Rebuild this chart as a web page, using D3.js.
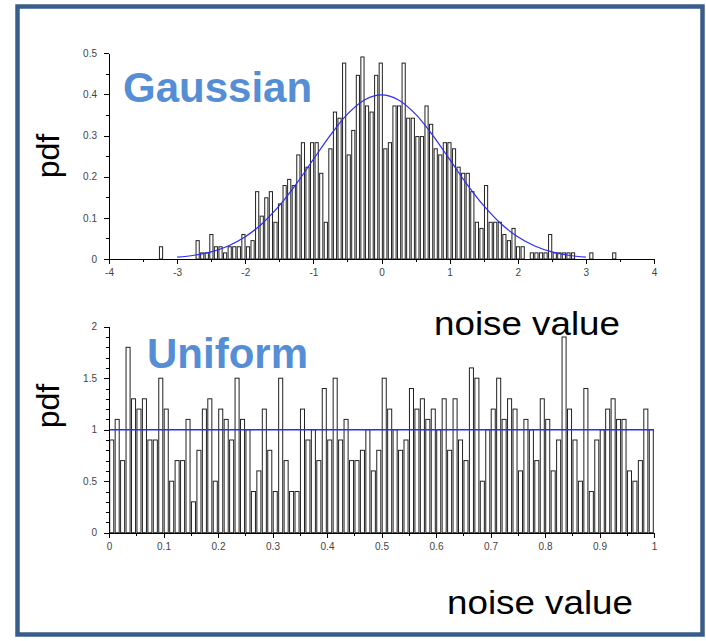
<!DOCTYPE html>
<html>
<head>
<meta charset="utf-8">
<script src="https://cdn.jsdelivr.net/npm/d3@7"></script>
<style>
body { margin: 0; background: #fff; }
svg { display: block; }
.axis text { font-family: "Liberation Sans", Arial, sans-serif; font-size: 10px; fill: #444; }
.axis path, .axis line { stroke: #000; shape-rendering: crispEdges; }
</style>
</head>
<body>
<div id="chart"></div>
<script>
// gaussian histogram: sample counts in 100 equal bins (1000 samples)
var gaussCounts = [
	2, 0, 0, 0, 0, 0, 0, 0, 3, 1,
	1, 4, 2, 2, 1, 2, 2, 2, 4, 2,
	3, 11, 7, 10, 11, 6, 9, 12, 13, 12,
	17, 19, 15, 19, 19, 14, 6, 18, 24, 23,
	32, 17, 21, 30, 33, 25, 24, 30, 32, 18,
	19, 25, 25, 32, 23, 23, 20, 20, 25, 22,
	18, 17, 19, 19, 18, 15, 14, 14, 11, 6,
	5, 12, 6, 6, 6, 4, 3, 5, 2, 2,
	0, 1, 1, 1, 1, 4, 1, 1, 1, 1,
	1, 0, 0, 0, 1, 0, 0, 0, 0, 1
];
var gaussRange = [-3.27, 3.45];
var gaussSamples = 1000;

// blue reference curve read at 0.25 steps
var curveX = [-3, -2.75, -2.5, -2.25, -2, -1.75, -1.5, -1.25, -1, -0.75, -0.5, -0.25, 0,
	0.25, 0.5, 0.75, 1, 1.25, 1.5, 1.75, 2, 2.25, 2.5, 2.75, 3];
var curveY = [0.0044, 0.0091, 0.0175, 0.0317, 0.054, 0.0863, 0.1295, 0.1826, 0.242, 0.3011, 0.3521, 0.3867, 0.3989,
	0.3867, 0.3521, 0.3011, 0.242, 0.1826, 0.1295, 0.0863, 0.054, 0.0317, 0.0175, 0.0091, 0.0044];

// uniform histogram: pdf per bin, 100 bins on [0, 1]
var uniformPdf = [
	0.9, 1.1, 0.7, 1.8, 1.3, 1.2, 1.3, 0.9, 0.9, 1.5,
	1.2, 0.5, 0.7, 0.7, 1.1, 0.3, 0.8, 1.2, 1.3, 0.5,
	1.2, 1.1, 0.9, 1.5, 1.1, 1.0, 0.4, 0.6, 1.2, 0.8,
	0.4, 1.5, 0.7, 0.4, 0.4, 1.2, 0.9, 1.0, 0.7, 1.4,
	0.9, 1.5, 0.9, 1.1, 0.7, 0.7, 0.8, 1.0, 0.6, 0.8,
	1.5, 1.2, 1.0, 0.8, 0.9, 1.4, 1.2, 1.3, 1.1, 1.2,
	1.0, 1.3, 0.8, 1.3, 0.9, 0.7, 1.6, 1.5, 0.5, 1.0,
	1.2, 1.5, 1.1, 1.3, 1.2, 0.6, 1.1, 1.0, 0.7, 1.3,
	1.1, 0.6, 0.9, 1.9, 1.2, 0.9, 0.5, 1.4, 0.4, 0.9,
	1.0, 1.2, 1.3, 1.1, 1.1, 0.6, 0.5, 0.7, 1.2, 1.0
];
var uniformRange = [0, 1];
var uniformLevel = 1;

var gaussXTicks = [-4, -3, -2, -1, 0, 1, 2, 3, 4];
var gaussXMinor = [-3.5, -2.5, -1.5, -0.5, 0.5, 1.5, 2.5, 3.5];
var gaussYTicks = [0, 0.1, 0.2, 0.3, 0.4, 0.5];
var gaussYMinor = [0.05, 0.15, 0.25, 0.35, 0.45];
var uniformXTicks = [0, 0.1, 0.2, 0.3, 0.4, 0.5, 0.6, 0.7, 0.8, 0.9, 1];
var uniformXMinor = [0.05, 0.15, 0.25, 0.35, 0.45, 0.55, 0.65, 0.75, 0.85, 0.95];
var uniformYTicks = [0, 0.5, 1, 1.5, 2];
var uniformYMinor = [0.1, 0.2, 0.3, 0.4, 0.6, 0.7, 0.8, 0.9, 1.1, 1.2, 1.3, 1.4, 1.6, 1.7, 1.8, 1.9];

var svgWidth = 706;
var svgHeight = 641;

var svg = d3.select('#chart').append('svg')
.attr('width', svgWidth)
.attr('height', svgHeight);

// slide frame
svg.append('rect')
.attr('x', 17.5)
.attr('y', 6.5)
.attr('width', 685)
.attr('height', 628)
.attr('fill', '#fff')
.attr('stroke', '#385d8a')
.attr('stroke-width', 4.5);

function drawAxes(g, x, y, xTicks, xMinor, yTicks, yMinor) {
	var y0 = y.range()[0];
	var x0 = x.range()[0];
	g.append('g').attr('class', 'axis')
	.attr('transform', 'translate(0,' + y0 + ')')
	.call(d3.axisBottom(x).tickValues(xMinor).tickSize(3).tickSizeOuter(0).tickFormat(''));
	g.append('g').attr('class', 'axis')
	.attr('transform', 'translate(0,' + y0 + ')')
	.call(d3.axisBottom(x).tickValues(xTicks).tickSize(5).tickSizeOuter(0).tickPadding(5).tickFormat(function(d) {return String(d);}));
	g.append('g').attr('class', 'axis')
	.attr('transform', 'translate(' + x0 + ',0)')
	.call(d3.axisLeft(y).tickValues(yMinor).tickSize(3).tickSizeOuter(0).tickFormat(''));
	g.append('g').attr('class', 'axis')
	.attr('transform', 'translate(' + x0 + ',0)')
	.call(d3.axisLeft(y).tickValues(yTicks).tickSize(5).tickSizeOuter(0).tickPadding(7).tickFormat(function(d) {return String(d);}));
}

function drawBars(g, x, y, start, binWidth, values) {
	g.append('g')
	.selectAll('rect')
	.data(values)
	.enter()
	.append('rect')
	.attr('x', function(d, i) {return x(start + i * binWidth) + 0.7;})
	.attr('width', function(d, i) {return x(start + (i + 1) * binWidth) - x(start + i * binWidth) - 1.4;})
	.attr('y', function(d) {return y(d);})
	.attr('height', function(d) {return y(0) - y(d);})
	.attr('fill', '#fff')
	.attr('stroke', '#222')
	.attr('stroke-width', 1);
}

//-------------------------------------------------------------------------------------------------------
// gaussian panel
var gx = d3.scaleLinear().domain([-4, 4]).range([109, 654]);
var gy = d3.scaleLinear().domain([0, 0.5]).range([259, 53.3]);
var topPanel = svg.append('g');

var gaussWidth = (gaussRange[1] - gaussRange[0]) / gaussCounts.length;
var gaussDensity = gaussCounts.map(function(c) {return c / (gaussSamples * gaussWidth);});
drawBars(topPanel, gx, gy, gaussRange[0], gaussWidth, gaussDensity);

topPanel.append('path')
.datum(d3.zip(curveX, curveY))
.attr('fill', 'none')
.attr('stroke', '#2b2bff')
.attr('stroke-width', 1.2)
.attr('d', d3.line().x(function(d) {return gx(d[0]);}).y(function(d) {return gy(d[1]);}).curve(d3.curveCatmullRom));

drawAxes(topPanel, gx, gy, gaussXTicks, gaussXMinor, gaussYTicks, gaussYMinor);

//-------------------------------------------------------------------------------------------------------
// uniform panel
var ux = d3.scaleLinear().domain([0, 1]).range([109, 654]);
var uy = d3.scaleLinear().domain([0, 2]).range([532.7, 326.7]);
var bottomPanel = svg.append('g');

drawBars(bottomPanel, ux, uy, uniformRange[0], (uniformRange[1] - uniformRange[0]) / uniformPdf.length, uniformPdf);

bottomPanel.append('line')
.attr('x1', ux(uniformRange[0]))
.attr('x2', ux(uniformRange[1]))
.attr('y1', uy(uniformLevel))
.attr('y2', uy(uniformLevel))
.attr('stroke', '#2b2bff')
.attr('stroke-width', 1.4);

drawAxes(bottomPanel, ux, uy, uniformXTicks, uniformXMinor, uniformYTicks, uniformYMinor);

//-------------------------------------------------------------------------------------------------------
// titles and axis labels
svg.append('text')
.attr('x', 123)
.attr('y', 102)
.attr('font-family', 'Liberation Sans, Arial, sans-serif')
.attr('font-weight', 'bold')
.attr('font-size', '42px')
.attr('fill', '#558ed5')
.text('Gaussian');

svg.append('text')
.attr('x', 147)
.attr('y', 368)
.attr('font-family', 'Liberation Sans, Arial, sans-serif')
.attr('font-weight', 'bold')
.attr('font-size', '42px')
.attr('fill', '#558ed5')
.text('Uniform');

[156, 406].forEach(function(cy) {
	svg.append('text')
	.attr('transform', 'translate(59,' + cy + ') rotate(-90)')
	.attr('text-anchor', 'middle')
	.attr('font-family', 'Liberation Sans, Arial, sans-serif')
	.attr('font-size', '32px')
	.attr('fill', '#000')
	.text('pdf');
});

[[434, 335], [447, 614]].forEach(function(p) {
	svg.append('text')
	.attr('x', p[0])
	.attr('y', p[1])
	.attr('font-family', 'Liberation Sans, Arial, sans-serif')
	.attr('font-size', '33px')
	.attr('textLength', 186)
	.attr('lengthAdjust', 'spacingAndGlyphs')
	.attr('fill', '#000')
	.text('noise value');
});
</script>
</body>
</html>
